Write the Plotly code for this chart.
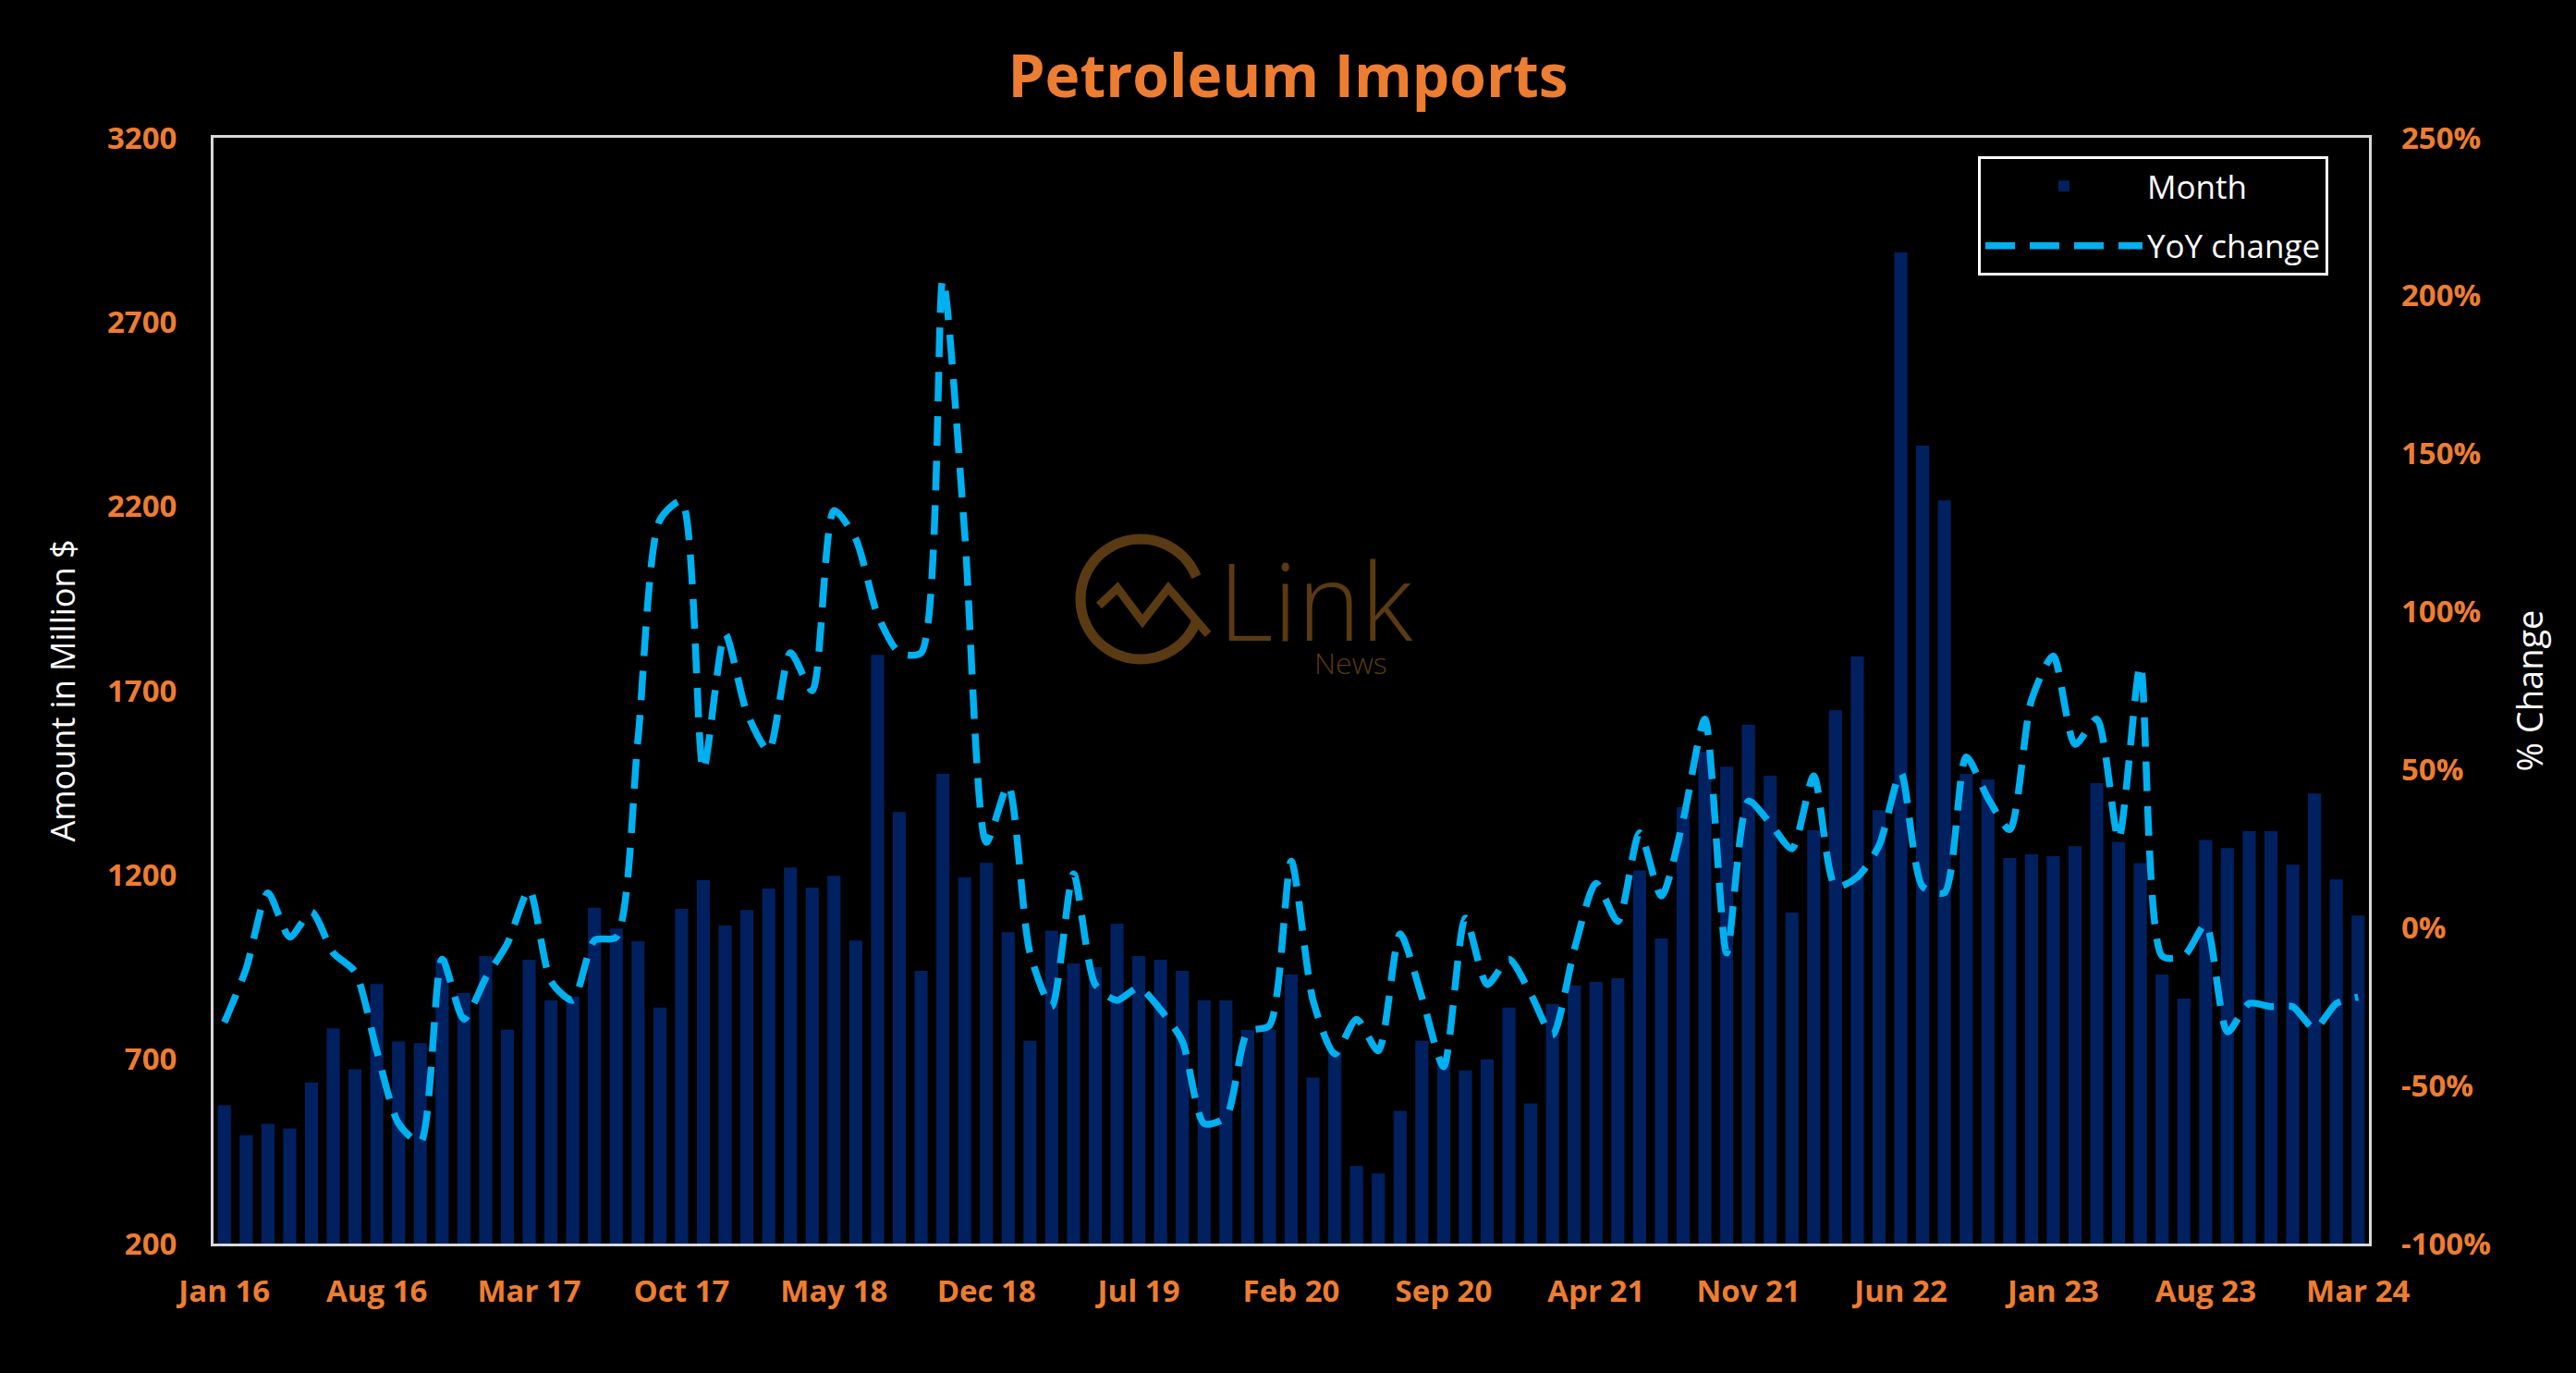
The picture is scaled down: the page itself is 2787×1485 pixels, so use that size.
import numpy as np
import pandas as pd
import plotly.graph_objects as go

# ---------------- data ----------------
months = list(pd.date_range("2016-01-01", periods=99, freq="MS").strftime("%b %y"))

imports_musd = [
    575, 494, 525, 512, 637, 784, 673, 904, 748, 744, 976, 880, 980, 780, 970, 860, 870,
    1111, 1055, 1020, 840, 1108, 1186, 1063, 1105, 1163, 1220, 1166, 1198, 1022, 1797, 1371, 940, 1474, 1193, 1233, 1045,
    750, 1049, 960, 950, 1068,
    980, 970, 940, 860, 860, 780, 780, 930, 650, 720, 410, 390, 560, 750, 700, 670, 700, 840, 580, 850, 900, 910, 920,
    1212, 1028, 1384, 1534, 1494, 1608, 1469, 1098, 1321, 1647, 1793, 1376, 2889, 2365, 2216,
    1474, 1459, 1246, 1256, 1251, 1278, 1449, 1290, 1232, 930, 865, 1295, 1273, 1319, 1319, 1228, 1421, 1188, 1090,
]

yoy_pct = [
    -30, -13, 11, -3, 5, -8, -14, -39, -62, -68, -10, -29, -16, -5,
    12, -17, -23, -4, -3, 60, 129, 135, 50, 93, 68, 56, 87, 75, 132, 123, 99, 87, 87, 205, 125, 27, 45,
    -8, -25, 17, -18, -23, -19, -26, -36, -62, -60, -33, -31, 21, -23, -40, -29, -39, -2, -22, -44,
    3, -18, -10, -21, -34, -7, 14, 2, 30, 10, 34, 66, -8, 40, 33, 25, 48, 13, 16, 26, 49, 13, 11,
    54, 41, 31, 72, 86, 58, 66, 28, 83, -9, -9, 1, -33, -24, -25, -25, -32, -24, -22,
]

tick_labels = months[::7]
left_ticks = list(range(200, 3201, 500))
right_ticks = list(range(-100, 251, 50))

# ---------------- style ----------------
ORANGE = "#ED7D31"
NAVY = "#002060"
CYAN = "#00B0F0"
AXIS = "#D9D9D9"
BROWN = "#5A3A12"
FONT = "Open Sans"

W, H = 2787, 1485
L, R, T, B = 231, 224, 149, 140
PW, PH = W - L - R, H - T - B

fig = go.Figure()
fig.add_trace(go.Bar(
    x=months, y=imports_musd, name="Month", legendgroup="a",
    marker=dict(color=NAVY, line=dict(width=0)),
))
fig.add_trace(go.Scatter(
    x=months, y=yoy_pct, name="YoY change", yaxis="y2", mode="lines", legendgroup="b",
    line=dict(color=CYAN, width=7.5, dash="32px,16px", shape="spline", smoothing=0.7),
))

tickfont = dict(family=FONT, size=33, color=ORANGE, weight="bold")

fig.update_layout(
    width=W, height=H,
    margin=dict(l=L, r=R, t=T, b=B),
    paper_bgcolor="black", plot_bgcolor="black",
    bargap=0.4,
    title=dict(text="<b>Petroleum Imports</b>", x=0.5, xanchor="center", y=1 - 83 / H, yanchor="middle",
               font=dict(family=FONT, size=64, color=ORANGE)),
    xaxis=dict(
        type="category", tickmode="array", tickvals=tick_labels, ticktext=tick_labels,
        tickfont=tickfont, showgrid=False, ticks="", showline=True, linecolor=AXIS, linewidth=3,
        mirror=True, ticklabelstandoff=20, zeroline=False,
    ),
    yaxis=dict(
        range=[200, 3200], tickmode="array", tickvals=left_ticks, ticktext=[str(v) for v in left_ticks],
        tickfont=tickfont,
        showgrid=False, zeroline=False, showline=True, linecolor=AXIS, linewidth=3, mirror=True,
        ticks="", ticklabelstandoff=30,
        title=dict(text="Amount in Million $", font=dict(family=FONT, size=36, color="white"), standoff=24),
    ),
    yaxis2=dict(
        range=[-100, 250], tickmode="array", tickvals=right_ticks, ticktext=[f"{v}%" for v in right_ticks],
        tickfont=tickfont,
        overlaying="y", side="right", showgrid=False, zeroline=False, showline=False, ticks="",
        ticklabelstandoff=34,
        title=dict(text="% Change", font=dict(family=FONT, size=38, color="white"), standoff=30),
    ),
    legend=dict(
        x=(2140 - L) / PW, y=(H - B - 169) / PH, xanchor="left", yanchor="top",
        bgcolor="black", bordercolor="white", borderwidth=3,
        font=dict(family=FONT, size=35, color="white"), itemwidth=170,
        tracegroupgap=16,
    ),
    showlegend=True,
)


# ---------------- watermark logo ----------------
def px2paper(x, y):
    return (x - L) / PW, (H - B - y) / PH


cx, cy, rad = 1234, 648, 65
angles = np.linspace(np.deg2rad(22), np.deg2rad(338), 80)
pts = [px2paper(cx + rad * np.cos(a), cy - rad * np.sin(a)) for a in angles]
path = "M " + " L ".join(f"{px:.5f},{py:.5f}" for px, py in pts)
fig.add_shape(type="path", xref="paper", yref="paper", path=path,
              line=dict(color=BROWN, width=11), layer="below")
zig = [(1189, 655), (1209, 636), (1236, 672), (1264, 636), (1307, 686)]
zpts = [px2paper(x, y) for x, y in zig]
fig.add_shape(type="path", xref="paper", yref="paper",
              path="M " + " L ".join(f"{px:.5f},{py:.5f}" for px, py in zpts),
              line=dict(color=BROWN, width=9), layer="below")
lx, ly = px2paper(1316, 648)
fig.add_annotation(xref="paper", yref="paper", x=lx, y=ly, xanchor="left", yanchor="middle",
                   text="Link", showarrow=False,
                   font=dict(family="Open Sans", size=116, color=BROWN, weight=300))
nx, ny = px2paper(1420, 716)
fig.add_annotation(xref="paper", yref="paper", x=nx, y=ny, xanchor="left", yanchor="middle",
                   text="News", showarrow=False,
                   font=dict(family="Open Sans", size=32, color=BROWN, weight=300))

fig.write_html("out.html", config={"displayModeBar": False},
               post_script="document.body.style.margin='0';document.body.style.overflow='hidden';")
